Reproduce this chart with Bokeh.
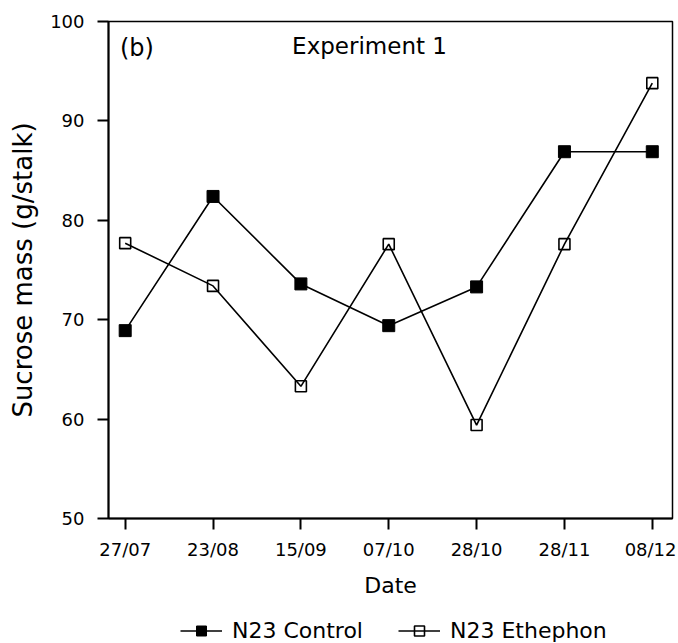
from bokeh.plotting import figure
from bokeh.layouts import column
from bokeh.models import FixedTicker, Legend, LegendItem, Label, ColumnDataSource, Range1d
from bokeh.embed import file_html
from bokeh.resources import INLINE

dates = ["27/07", "23/08", "15/09", "07/10", "28/10", "28/11", "08/12"]
control = [68.9, 82.4, 73.6, 69.4, 73.3, 86.9, 86.9]
ethephon = [77.7, 73.4, 63.3, 77.6, 59.4, 77.6, 93.8]
y_ticks = [50, 60, 70, 80, 90, 100]

FONT = "DejaVu Sans"
xs = list(range(len(dates)))
src = ColumnDataSource(dict(x=xs, control=control, ethephon=ethephon))

p = figure(frame_width=564, frame_height=497, output_backend="svg", toolbar_location=None,
           x_range=Range1d(-0.19, 6.23), y_range=Range1d(50, 100),
           min_border_left=108, min_border_top=21, min_border_right=4,
           min_border_bottom=80)
p.background_fill_color = "white"
p.border_fill_color = "white"
p.outline_line_color = "black"
p.outline_line_width = 1.5
p.xgrid.visible = False
p.ygrid.visible = False

ctrl_line = dict(line_color="black", line_width=1.6)
ctrl_mark = dict(marker="square", size=12, fill_color="black", line_color="black")
eth_line = dict(line_color="black", line_width=1.6)
eth_mark = dict(marker="square", size=11, fill_color=None, line_color="black", line_width=1.6)

p.line("x", "control", source=src, **ctrl_line)
p.scatter("x", "control", source=src, **ctrl_mark)
p.line("x", "ethephon", source=src, **eth_line)
p.scatter("x", "ethephon", source=src, **eth_mark)

xa = p.xaxis[0]
xa.ticker = FixedTicker(ticks=xs)
xa.major_label_overrides = {i: d for i, d in enumerate(dates)}
ya = p.yaxis[0]
ya.ticker = FixedTicker(ticks=y_ticks)
for ax in (xa, ya):
    ax.axis_line_width = 2
    ax.major_tick_line_width = 2
    ax.major_tick_out = 11
    ax.major_tick_in = 0
    ax.minor_tick_line_color = None
    ax.major_label_text_font = FONT
    ax.major_label_text_font_size = "18px"
    ax.major_label_text_color = "black"
    ax.axis_label_text_font = FONT
    ax.axis_label_text_font_style = "normal"
    ax.axis_label_text_color = "black"
xa.major_label_standoff = 9
ya.major_label_standoff = 13
xa.axis_label = "Date"
xa.axis_label_text_font_size = "22px"
xa.axis_label_standoff = 10
ya.axis_label = "Sucrose mass (g/stalk)"
ya.axis_label_text_font_size = "26px"
ya.axis_label_standoff = 9

p.add_layout(Label(x=-0.06, y=97.3, text="(b)", text_font=FONT, text_font_size="24px",
                   text_baseline="middle", text_color="black"))
p.add_layout(Label(x=1.90, y=97.5, text="Experiment 1", text_font=FONT,
                   text_font_size="23px", text_baseline="middle", text_color="black"))

# Legend strip below the chart (glyphs here fall outside its range; only the legend shows)
lg = figure(width=676, height=45, output_backend="svg", toolbar_location=None,
            x_range=Range1d(100, 101), y_range=Range1d(0, 1),
            x_axis_type=None, y_axis_type=None, min_border=0)
lg.outline_line_color = None
lg.xgrid.visible = False
lg.ygrid.visible = False
a1 = lg.line("x", "control", source=src, **ctrl_line)
b1 = lg.scatter("x", "control", source=src, **ctrl_mark)
a2 = lg.line("x", "ethephon", source=src, **eth_line)
b2 = lg.scatter("x", "ethephon", source=src, **eth_mark)

legend = Legend(items=[LegendItem(label="N23 Control", renderers=[a1, b1]),
                       LegendItem(label="N23 Ethephon", renderers=[a2, b2])],
                orientation="horizontal", location=(72, 2),
                glyph_width=42, glyph_height=25, label_standoff=10, spacing=35,
                label_text_font=FONT, label_text_font_size="22px",
                label_text_color="black", border_line_color=None,
                background_fill_alpha=0, padding=0, margin=0)
lg.add_layout(legend, "center")

open("out.html", "w").write(file_html(column(p, lg, spacing=0), INLINE))
